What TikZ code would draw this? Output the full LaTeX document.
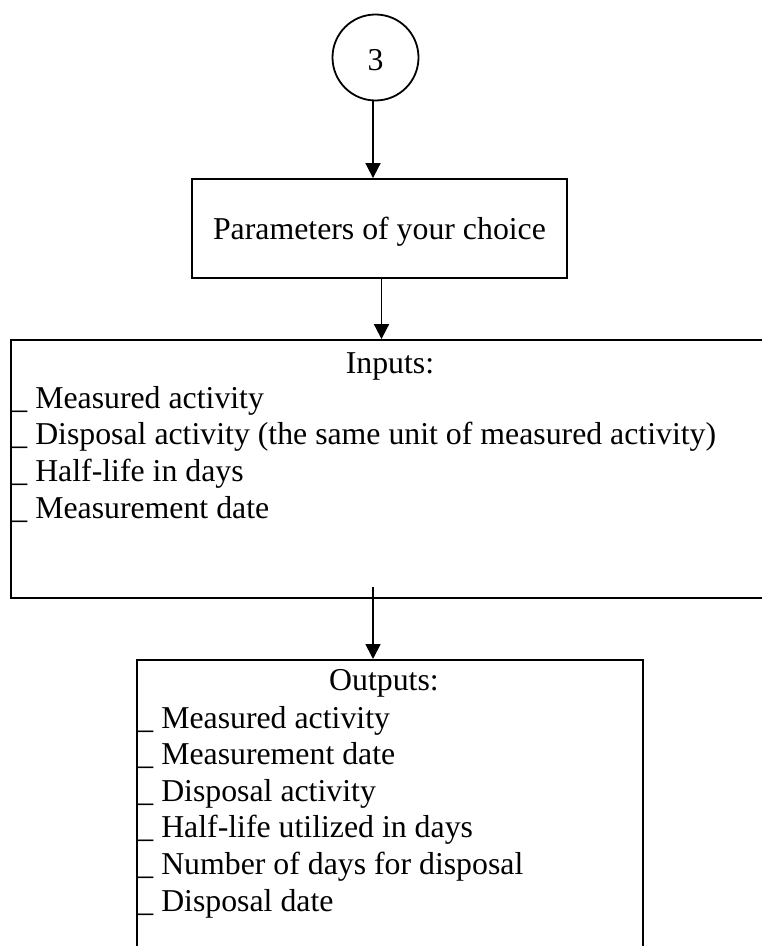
\documentclass[tikz,border=0pt]{standalone}
\usepackage{fontspec}
\setmainfont{Liberation Serif}
\usetikzlibrary{arrows.meta,calc}

\tikzset{
  box/.style={draw,line width=0.9pt,inner sep=0pt},
  arr/.style={line width=0.9pt,-{Triangle[width=7.5pt,length=7.5pt]}},
  txt/.style={inner sep=0pt,font=\fontsize{15.9}{18.3}\selectfont},
  item/.style={txt,anchor=base west},
}

\begin{document}
\begin{tikzpicture}[x=0.5pt,y=-0.5pt]
    \useasboundingbox (0,0) rectangle (761,946);
    \node[box,circle,minimum size=43pt,txt,text height=13.5pt,text depth=0pt] (c3) at (375.5,57.5) {3};
    \node[box,minimum width=187.5pt,minimum height=49.5pt,txt,text height=11.5pt,text depth=0pt] (par) at (379.5,228.5) {Parameters of your choice};
    \node[box,minimum width=379pt,minimum height=129pt] (inp) at (390,469) {};
    \node[box,minimum width=253pt,minimum height=170pt,anchor=north] (outp) at (390,659) {};
    % inputs
    \node[txt,anchor=base] (inhead) at (390,373) {Inputs:};
    \node[item] (in1) at (11,408) {\_ Measured activity};
    \node[item] (in2) at (11,444.7) {\_ Disposal activity (the same unit of measured activity)};
    \node[item] (in3) at (11,481.4) {\_ Half-life in days};
    \node[item] (in4) at (11,518.1) {\_ Measurement date};
    % outputs
    \node[txt,anchor=base] (outhead) at (384,690) {Outputs:};
    \node[item] (out1) at (137,728) {\_ Measured activity};
    \node[item] (out2) at (137,764.6) {\_ Measurement date};
    \node[item] (out3) at (137,801.2) {\_ Disposal activity};
    \node[item] (out4) at (137,837.8) {\_ Half-life utilized in days};
    \node[item] (out5) at (137,874.4) {\_ Number of days for disposal};
    \node[item] (out6) at (137,911) {\_ Disposal date};
    % arrows
    \draw[arr] ([xshift=-1.25pt]c3.south) -- ([xshift=-1.25pt]c3.south |- par.north);
    \draw[arr] ([xshift=1pt]par.south) -- ([xshift=1pt]par.south |- inp.north);
    \coordinate (j) at (373,587);
    \draw[arr] (j) -- (j |- outp.north);
\end{tikzpicture}
\end{document}
